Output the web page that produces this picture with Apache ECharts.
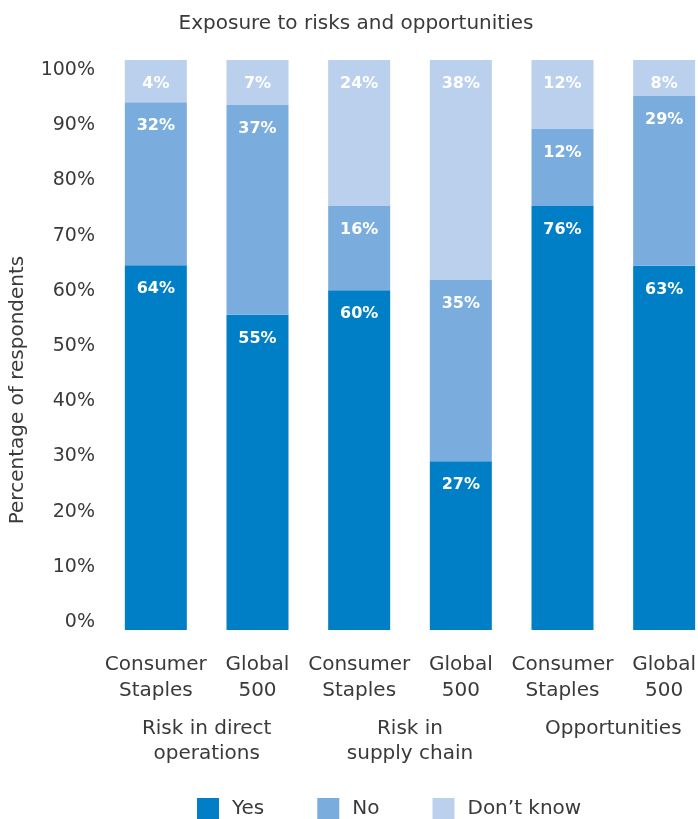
<!DOCTYPE html>
<html>
<head>
<meta charset="utf-8">
<style>html,body{margin:0;padding:0;background:#fff}#c{width:698px;height:819px}</style>
<script src="https://cdn.jsdelivr.net/npm/echarts@6/dist/echarts.min.js"></script>
</head>
<body>
<div id="c"></div>
<script>
// Categories
var categories = ['Consumer\nStaples', 'Global\n500', 'Consumer\nStaples', 'Global\n500', 'Consumer\nStaples', 'Global\n500'];
var groups = ['Risk in direct\noperations', 'Risk in\nsupply chain', 'Opportunities'];
var seriesNames = ['Yes', 'No', 'Don\u2019t know'];
// Segment heights as drawn in the picture (% of bar)
var yesHeights = [64.0, 55.3, 59.6, 29.6, 74.4, 63.9];
var noHeights  = [28.6, 36.8, 14.8, 31.8, 13.6, 29.8];
var dkHeights  = [7.4, 7.9, 25.6, 38.6, 12.0, 6.3];
// Printed value labels
var yesLabels = [64, 55, 60, 27, 76, 63];
var noLabels  = [32, 37, 16, 35, 12, 29];
var dkLabels  = [4, 7, 24, 38, 12, 8];
// Y-axis ticks
var yTicks = [0, 10, 20, 30, 40, 50, 60, 70, 80, 90, 100];

var colors = ['#007EC6', '#7AADDE', '#BAD0EC'];
var font = 'DejaVu Sans, Liberation Sans, sans-serif';
var textColor = '#3a3a3a';

function mkSeries(i, heights, labels) {
  return {
    name: seriesNames[i],
    type: 'bar',
    stack: 'total',
    xAxisIndex: 0,
    yAxisIndex: 0,
    barWidth: 62,
    itemStyle: { color: colors[i] },
    data: heights,
    label: {
      show: true,
      position: 'insideTop',
      distance: 16,
      color: '#fff',
      fontFamily: font,
      fontWeight: 'bold',
      fontSize: 16,
      formatter: function (p) { return labels[p.dataIndex] + '%'; }
    }
  };
}

var chart = echarts.init(document.getElementById('c'));
chart.setOption({
  animation: false,
  backgroundColor: '#fff',
  title: {
    text: 'Exposure to risks and opportunities',
    left: 351, textAlign: 'center', top: 9,
    textStyle: { fontFamily: font, fontWeight: 'normal', fontSize: 20, color: textColor }
  },
  legend: {
    bottom: 0, left: 197, padding: 0,
    itemWidth: 22, itemHeight: 21, itemGap: 53,
    icon: 'rect',
    textStyle: { fontFamily: font, fontSize: 20, color: textColor, padding: [0, 0, 0, 8] },
    data: seriesNames
  },
  grid: [
    { left: 105, width: 610, top: 60, height: 570, containLabel: false, outerBoundsMode: 'none' },
    { left: 105, width: 610, top: 70, height: 552, containLabel: false, outerBoundsMode: 'none' }
  ],
  graphic: [{
    type: 'text', x: 18, y: 390, rotation: Math.PI / 2,
    style: { text: 'Percentage of respondents', align: 'center', verticalAlign: 'middle',
      fontFamily: font, fontSize: 20, fill: textColor }
  }],
  xAxis: [
    {
      type: 'category', gridIndex: 0, data: categories,
      axisLine: { show: false }, axisTick: { show: false },
      axisLabel: { margin: 22, fontFamily: font, fontSize: 20, color: textColor, lineHeight: 26, interval: 0 }
    },
    {
      type: 'category', gridIndex: 0, data: groups, position: 'bottom',
      axisLine: { show: false }, axisTick: { show: false },
      axisLabel: { margin: 86, fontFamily: font, fontSize: 20, color: textColor, lineHeight: 25, interval: 0 }
    },
    { type: 'value', gridIndex: 1, show: false, min: 0, max: 1 }
  ],
  yAxis: [
    { type: 'value', gridIndex: 0, min: 0, max: 100, show: false },
    {
      type: 'value', gridIndex: 1, min: yTicks[0], max: yTicks[yTicks.length - 1], interval: 10,
      axisLine: { show: false }, axisTick: { show: false }, splitLine: { show: false },
      axisLabel: { margin: 10, fontFamily: font, fontSize: 19, color: textColor, formatter: '{value}%' }
    }
  ],
  series: [
    mkSeries(0, yesHeights, yesLabels),
    mkSeries(1, noHeights, noLabels),
    mkSeries(2, dkHeights, dkLabels)
  ]
});
</script>
</body>
</html>
